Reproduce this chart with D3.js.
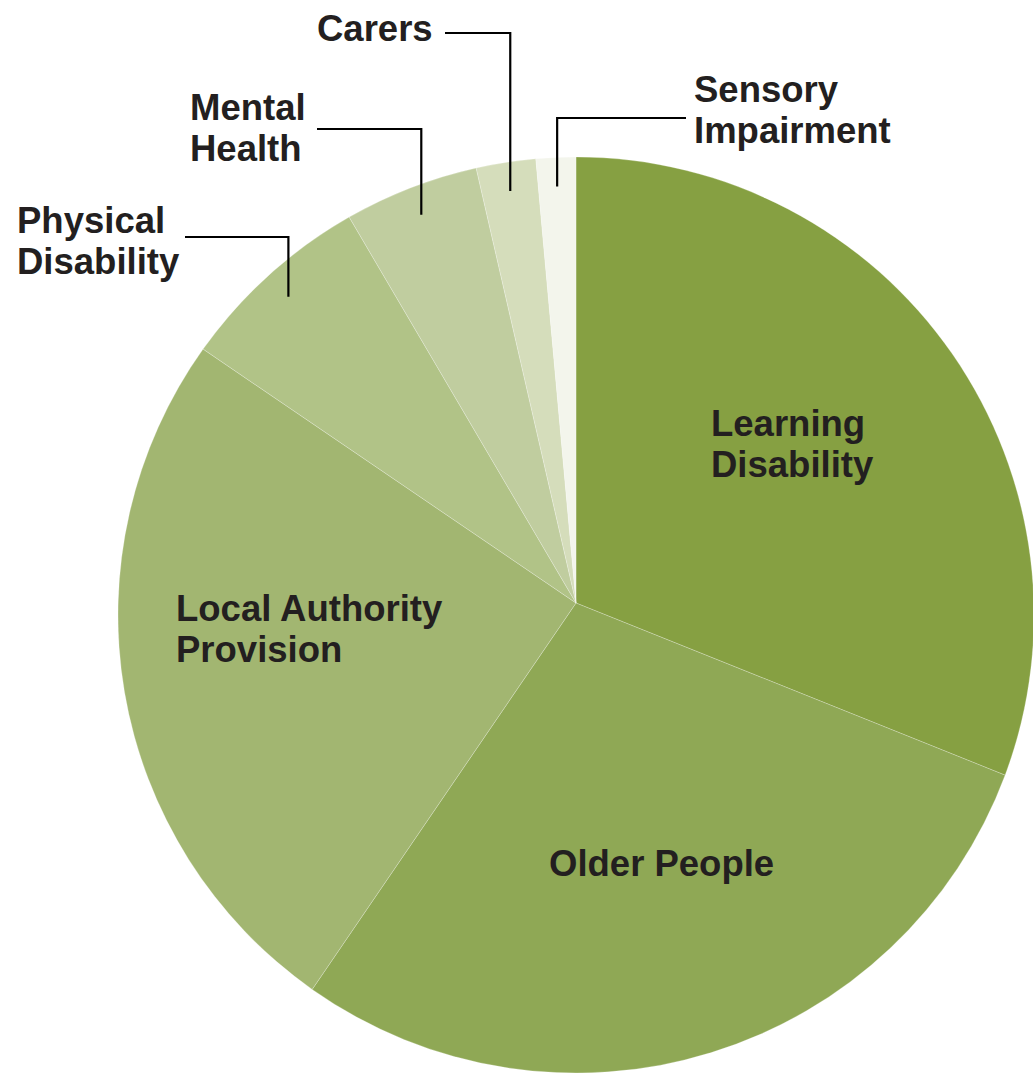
<!DOCTYPE html>
<html>
<head>
<meta charset="utf-8">
<script src="https://cdn.jsdelivr.net/npm/d3@7"></script>
<style>
  html, body { margin: 0; padding: 0; background: #ffffff; }
  svg { display: block; }
  text { font-family: "Liberation Sans", Arial, Helvetica, sans-serif; font-weight: bold; fill: #231f20; }
</style>
</head>
<body>
<svg id="chart" width="1033" height="1079"></svg>
<script>
// Share of spending by client group (percent), clockwise from 12 o'clock
const categories = ["Learning Disability", "Older People", "Local Authority Provision",
                    "Physical Disability", "Mental Health", "Carers", "Sensory Impairment"];
const shares = [30.7, 29.1, 25.1, 6.9, 4.75, 2.1, 1.4];
const colours = ["#86a042", "#8fa855", "#a2b671", "#b1c387", "#c0cd9f", "#d5ddbb", "#f3f5ec"];

// Label text split into lines
const labelLines = [
  ["Learning", "Disability"],
  ["Older People"],
  ["Local Authority", "Provision"],
  ["Physical", "Disability"],
  ["Mental", "Health"],
  ["Carers"],
  ["Sensory", "Impairment"]
];

// Layout of the labels (x, first baseline) and the callout elbows for small slices
const labelLayout = [
  { x: 711, y: 436 },
  { x: 549, y: 876 },
  { x: 176, y: 621 },
  { x: 17,  y: 233, elbowY: 237, lineFrom: 185 },
  { x: 190, y: 120, elbowY: 129, lineFrom: 317 },
  { x: 317, y: 41,  elbowY: 33,  lineFrom: 445 },
  { x: 694, y: 102, elbowY: 118, lineFrom: 686 }
];

const svg = d3.select("#chart");
const cx = 576, cy = 615, r = 458;   // outer circle
const apexY = 603;                    // point where the slices meet
const lineHeight = 41;

const data = categories.map((c, i) => ({ name: c, value: shares[i], colour: colours[i], lines: labelLines[i], layout: labelLayout[i] }));

const pie = d3.pie().sort(null).value(d => d.value);
const arcs = pie(data);

function slicePath(a) {
  const p = d3.path();
  p.moveTo(cx, apexY);
  p.lineTo(cx + r * Math.sin(a.startAngle), cy - r * Math.cos(a.startAngle));
  p.arc(cx, cy, r, a.startAngle - Math.PI / 2, a.endAngle - Math.PI / 2, false);
  p.closePath();
  return p.toString();
}

svg.append("g")
  .selectAll("path")
  .data(arcs)
  .join("path")
  .attr("d", slicePath)
  .attr("fill", d => d.data.colour)
  .attr("stroke", "#ffffff")
  .attr("stroke-width", 0.4)
  .attr("stroke-opacity", 0.6);

// Callout lines for the small slices: from a point inside the slice, straight up, then across to the label
const anchorR = 429;
const callouts = arcs.filter(a => a.data.layout.elbowY !== undefined);
svg.append("g")
  .selectAll("path")
  .data(callouts)
  .join("path")
  .attr("d", a => {
    const mid = (a.startAngle + a.endAngle) / 2;
    const ax = cx + anchorR * Math.sin(mid);
    const ay = cy - anchorR * Math.cos(mid);
    const L = a.data.layout;
    return d3.line()([[L.lineFrom, L.elbowY], [ax, L.elbowY], [ax, ay]]);
  })
  .attr("fill", "none")
  .attr("stroke", "#000000")
  .attr("stroke-width", 2.2);

// Labels
const labels = svg.append("g")
  .selectAll("text")
  .data(arcs)
  .join("text")
  .attr("font-size", "36.5px")
  .attr("x", a => a.data.layout.x)
  .attr("y", a => a.data.layout.y);

labels.selectAll("tspan")
  .data(a => a.data.lines.map((t, i) => ({ t, i, x: a.data.layout.x })))
  .join("tspan")
  .attr("x", d => d.x)
  .attr("dy", d => d.i === 0 ? 0 : lineHeight)
  .text(d => d.t);
</script>
</body>
</html>
